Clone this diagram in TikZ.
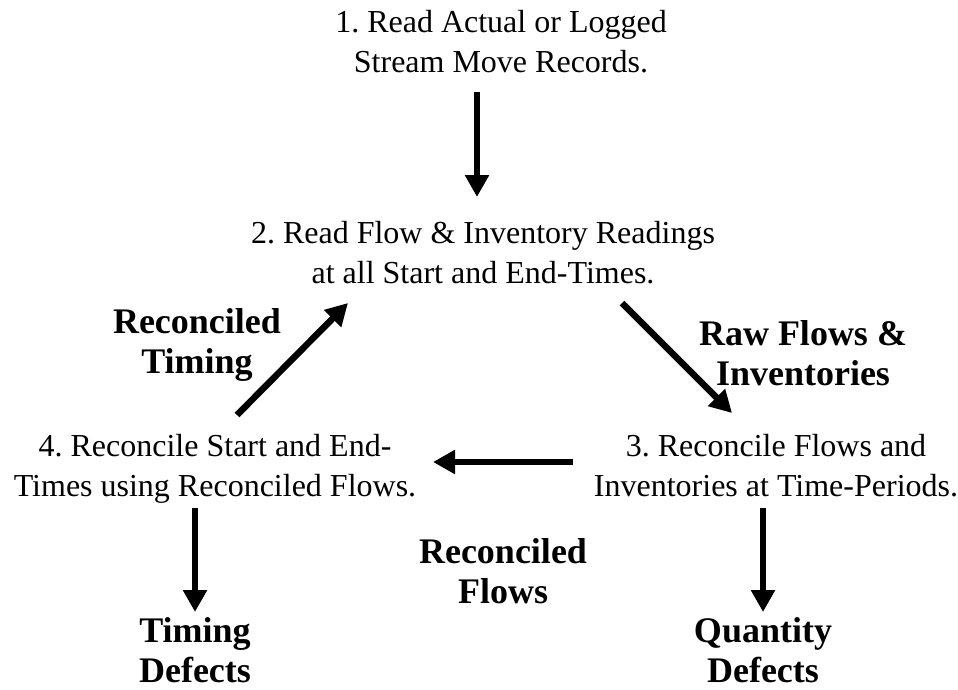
\documentclass[tikz,border=0pt]{standalone}
\usepackage{fontspec}
\setmainfont{Liberation Serif}
\usetikzlibrary{arrows.meta}
\frenchspacing
\begin{document}
\begin{tikzpicture}[x=1pt,y=-1pt,
  stepnode/.style={font=\fontsize{32}{40}\selectfont\frenchspacing, align=center, inner sep=0pt, anchor=base},
  lbl/.style={font=\bfseries\fontsize{36}{40}\selectfont, align=center, inner sep=0pt, anchor=base},
  arr/.style={line width=6.5pt, -{Triangle[length=22pt,width=23pt]}}]
\useasboundingbox (0,0) rectangle (958,690);
% step nodes (anchor base = baseline of last line)
\node[stepnode] (n1) at (501,73) {1. Read Actual or Logged\\Stream Move Records.};
\node[stepnode] (n2) at (483,283) {2. Read Flow \& Inventory Readings\\at all Start and End-Times.};
\node[stepnode] (n3) at (776,496) {3. Reconcile Flows and\\Inventories at Time-Periods.};
\node[stepnode] (n4) at (215,496) {4. Reconcile Start and End-\\Times using Reconciled Flows.};
% labels
\node[lbl] (lt) at (197,373) {Reconciled\\Timing};
\node[lbl] (lr) at (803,385) {Raw Flows \&\\Inventories};
\node[lbl] (lf) at (503,603) {Reconciled\\Flows};
\node[lbl] (ltd) at (195,682) {Timing\\Defects};
\node[lbl] (lqd) at (763,682) {Quantity\\Defects};
% arrow end points
\coordinate (a1s) at (477,92);  \coordinate (a1e) at (477,197);
\coordinate (a2s) at (237,415); \coordinate (a2e) at (348,303);
\coordinate (a3s) at (622,303); \coordinate (a3e) at (732,413);
\coordinate (a4s) at (573,462); \coordinate (a4e) at (433,462);
\coordinate (a5s) at (195,508); \coordinate (a5e) at (195,612);
\coordinate (a6s) at (763,508); \coordinate (a6e) at (763,612);
\draw[arr] (a1s) -- (a1e);
\draw[arr] (a2s) -- (a2e);
\draw[arr] (a3s) -- (a3e);
\draw[arr] (a4s) -- (a4e);
\draw[arr] (a5s) -- (a5e);
\draw[arr] (a6s) -- (a6e);
\end{tikzpicture}
\end{document}
